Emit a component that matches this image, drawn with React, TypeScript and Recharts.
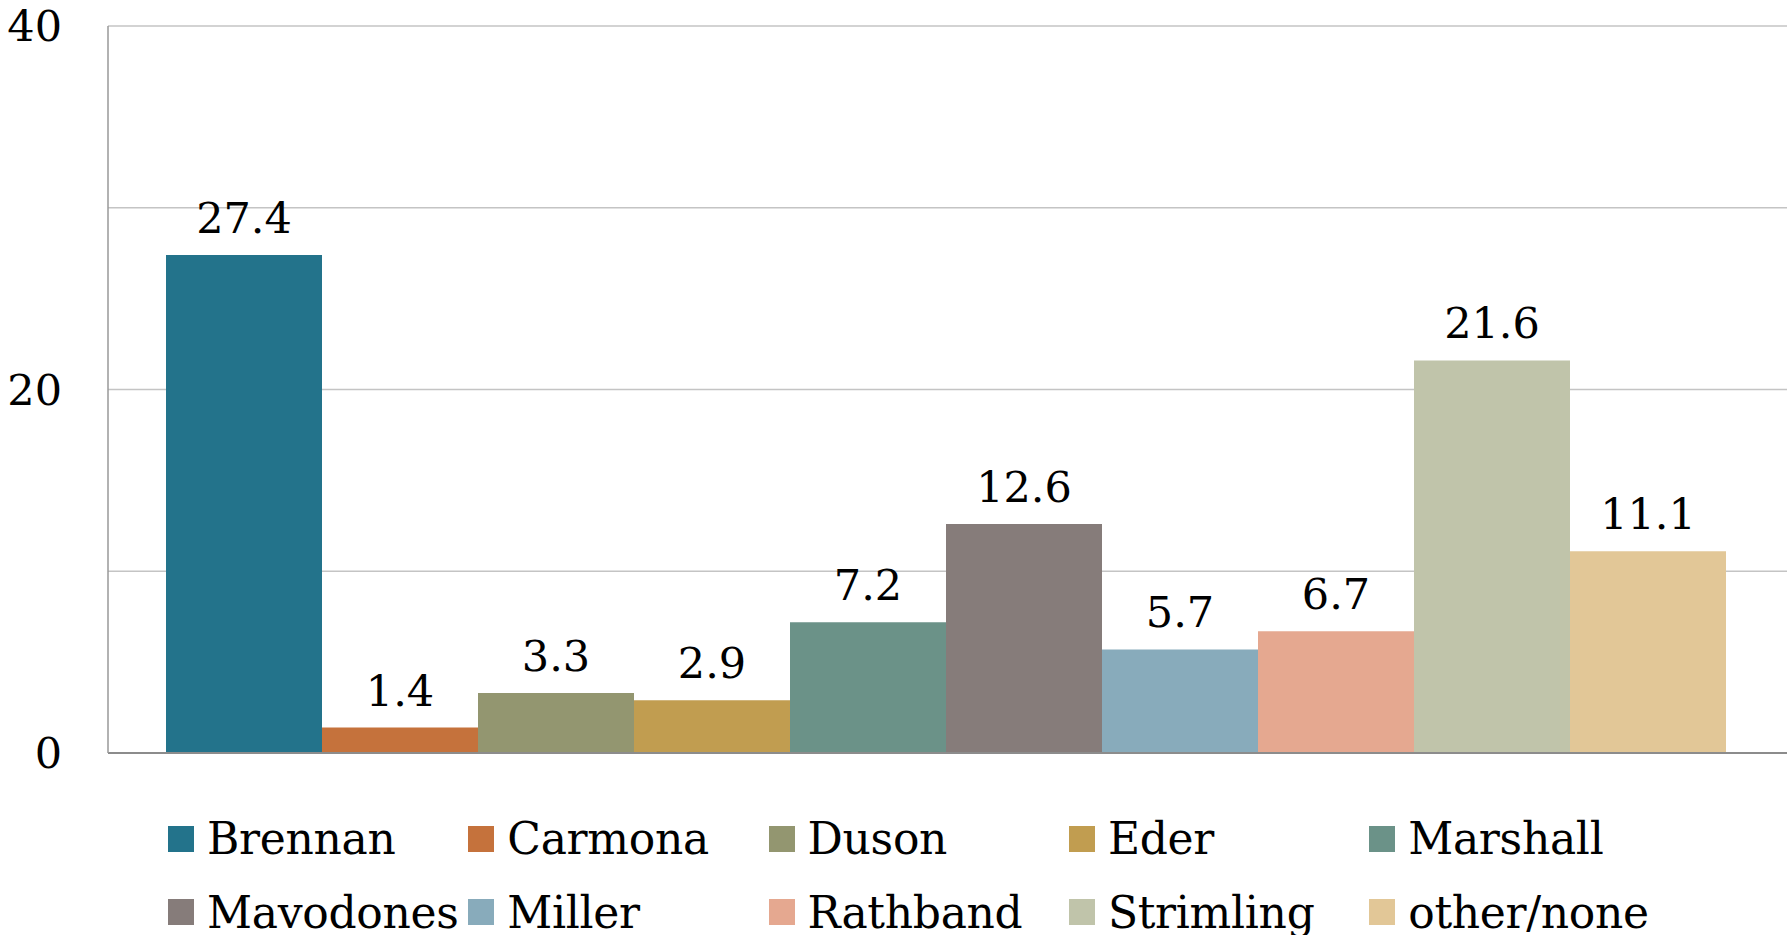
import React from 'react';
import { BarChart, Bar, XAxis, YAxis, CartesianGrid, Legend, LabelList, ReferenceLine } from 'recharts';

const categories = ['Brennan', 'Carmona', 'Duson', 'Eder', 'Marshall', 'Mavodones', 'Miller', 'Rathband', 'Strimling', 'other/none'];
const values = [27.4, 1.4, 3.3, 2.9, 7.2, 12.6, 5.7, 6.7, 21.6, 11.1];
const colors = ['#23738b', '#c5723c', '#939670', '#c19d50', '#6b9288', '#867c7a', '#88abbb', '#e5a890', '#c0c4aa', '#e2c797'];
const yTicks = [0, 10, 20, 30, 40];
const yLabelled = [0, 20, 40];

const FONT = '"DejaVu Serif", serif';

const row: Record<string, number | string> = { group: 'all' };
categories.forEach((c, i) => {
  row[c] = values[i];
});
const data = [row];

const renderLegend = () => {
  const rows = [categories.slice(0, 5), categories.slice(5, 10)];
  return (
    <div style={{ fontFamily: FONT, fontSize: 44, color: '#000', letterSpacing: -0.3 }}>
      {rows.map((r, ri) => (
        <div key={ri} style={{ display: 'flex', height: 73.5, lineHeight: '73.5px' }}>
          {r.map((c) => {
            const idx = categories.indexOf(c);
            return (
              <div key={c} style={{ width: 300.3, display: 'flex', alignItems: 'center', whiteSpace: 'nowrap' }}>
                <span style={{ display: 'inline-block', width: 26, height: 26, background: colors[idx], marginRight: 13, flex: '0 0 auto' }} />
                <span>{c}</span>
              </div>
            );
          })}
        </div>
      ))}
    </div>
  );
};

export default function App() {
  return (
    <div style={{ position: 'absolute', left: 0, top: 0, width: 1792, height: 935, background: '#fff' }}>
      <BarChart
        width={1792}
        height={935}
        data={data}
        margin={{ top: 26, right: 5, left: 0, bottom: 182 }}
        barGap={0}
        barCategoryGap={58}
      >
        <CartesianGrid vertical={false} stroke="#c4c4c4" strokeWidth={1.5} />
        <XAxis dataKey="group" hide />
        <YAxis
          domain={[0, 40]}
          ticks={yTicks}
          interval={0}
          width={108}
          tickLine={false}
          tickSize={0}
          tickMargin={46}
          axisLine={{ stroke: '#999999', strokeWidth: 1.5 }}
          tickFormatter={(v: number) => (yLabelled.includes(v) ? String(v) : '')}
          tick={{ fontFamily: FONT, fontSize: 43, fill: '#000' }}
        />
        {categories.map((c, i) => (
          <Bar key={c} dataKey={c} fill={colors[i]} isAnimationActive={false}>
            <LabelList
              dataKey={c}
              position="top"
              offset={22}
              fontFamily={FONT}
              fontSize={43}
              fill="#000"
            />
          </Bar>
        ))}
        <ReferenceLine y={0} stroke="#8c8c8c" strokeWidth={2} />
        <Legend
          verticalAlign="middle"
          align="center"
          layout="horizontal"
          wrapperStyle={{ left: 168, top: 802, width: 1560 }}
          content={renderLegend}
        />
      </BarChart>
    </div>
  );
}
